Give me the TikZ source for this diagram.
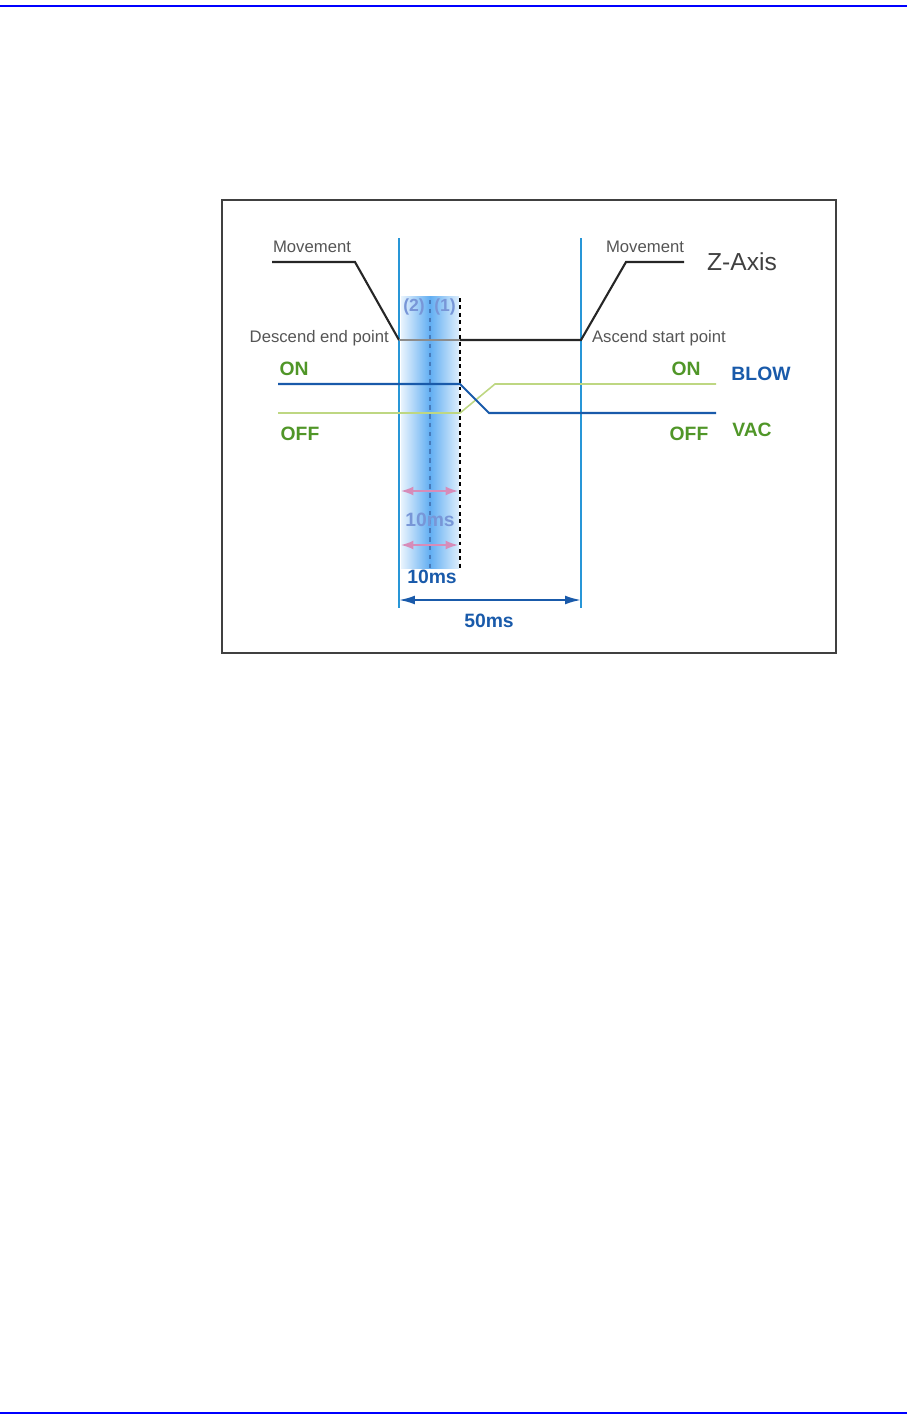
\documentclass[tikz,border=0pt]{standalone}
\usepackage{fontspec}
\setmainfont{Liberation Sans}
\usetikzlibrary{arrows, arrows.meta}
\definecolor{pageblue}{RGB}{0,0,255}
\definecolor{lineblue}{RGB}{40,150,215}
\definecolor{blowblue}{RGB}{25,90,170}
\definecolor{vacgreen}{RGB}{190,215,130}
\definecolor{txtgreen}{RGB}{80,150,40}
\definecolor{txtgray}{RGB}{85,85,85}
\definecolor{markblue}{RGB}{120,150,215}
\definecolor{pinkarr}{RGB}{215,140,185}
\definecolor{bandblue}{RGB}{70,160,240}

\begin{document}
\begin{tikzpicture}[x=0.02cm,y=-0.02cm,
  thin text/.style={color=txtgray, font=\fontsize{9.5}{11}\selectfont, inner sep=1pt},
  state text/.style={color=txtgreen, font=\fontsize{11}{13}\selectfont\bfseries, inner sep=1pt},
  time text/.style={font=\fontsize{11}{13}\selectfont\bfseries, inner sep=1pt}]%
  \def\tl{399}% descend end point
  \def\tr{581}% ascend start point
  \def\tm{430}% (2)
  \def\tk{460}% (1)
  \def\yz{340}
  \def\yon{384}
  \def\yoff{413}
  \useasboundingbox (0,0) rectangle (907,1424);
  % page rules and frame
  \draw[pageblue, line width=1.6pt] (0,6) -- (907,6);
  \draw[pageblue, line width=1.6pt] (0,1413) -- (907,1413);
  \draw[color=black!75, line width=1.1pt] (222,200) rectangle (836,653);

  % shaded window
  \shade[left color=bandblue!12, right color=bandblue!18, middle color=bandblue!85] (\tl+2,296) rectangle (\tk-1,568);
  \draw[color=blowblue!80, line width=0.6pt, dash pattern=on 2.5pt off 2.5pt] (\tm,300) -- (\tm,570);
  \draw[color=black, line width=1.7pt, dash pattern=on 2.2pt off 2pt] (\tk,298) -- (\tk,568);

  % time marks
  \draw[color=lineblue, line width=1.1pt] (\tl,238) -- (\tl,608);
  \draw[color=lineblue, line width=1.1pt] (\tr,238) -- (\tr,608);

  % z axis
  \draw[color=black!85, line width=1.2pt] (272,262) -- (355,262) -- (\tl,\yz);
  \draw[color=black!45, line width=0.6pt] (\tl,\yz) -- (\tk,\yz);
  \draw[color=black!85, line width=1.2pt] (\tk,\yz) -- (\tr,\yz) -- (626,262) -- (684,262);

  % vac and blow
  \draw[color=vacgreen, line width=0.9pt] (278,\yoff) -- (\tk,\yoff) -- (495,\yon) -- (716,\yon);
  \draw[color=blowblue, line width=1.2pt] (278,\yon) -- (\tk,\yon) -- (489,\yoff) -- (716,\yoff);

  % widths
  \draw[{Latex[length=7pt,width=5pt]}-{Latex[length=7pt,width=5pt]}, color=pinkarr, line width=0.9pt] (\tl+2,491) -- (\tk-2,491);
  \draw[{Latex[length=7pt,width=5pt]}-{Latex[length=7pt,width=5pt]}, color=pinkarr, line width=0.9pt] (\tl+2,545) -- (\tk-2,545);
  \draw[{Latex[length=9pt,width=5pt]}-{Latex[length=9pt,width=5pt]}, color=blowblue, line width=1.1pt] (\tl,600) -- (\tr,600);

  \node[thin text] (moveL) at (312,247) {Movement};
  \node[thin text] (moveR) at (645,247) {Movement};
  \node[color=black!75, font=\fontsize{14}{16}\selectfont, inner sep=1pt] (zaxis) at (742,262) {Z-Axis};
  \node[thin text, anchor=east] (descend) at (391,338) {Descend end point};
  \node[thin text, anchor=west] (ascend) at (590,338) {Ascend start point};

  \node[state text] (onL) at (294,369) {ON};
  \node[state text] (offL) at (300,434) {OFF};
  \node[state text] (onR) at (686,369) {ON};
  \node[state text] (offR) at (689,434) {OFF};
  \node[time text, color=blowblue] (blow) at (761,374) {BLOW};
  \node[state text] (vac) at (752,430) {VAC};

  \node[time text, color=markblue, font=\fontsize{10}{12}\selectfont\bfseries] (two) at (414,307) {(2)};
  \node[time text, color=markblue, font=\fontsize{10}{12}\selectfont\bfseries] (one) at (445,307) {(1)};
  \node[time text, color=markblue] (tenA) at (430,520) {10ms};
  \node[time text, color=blowblue] (tenB) at (432,577) {10ms};
  \node[time text, color=blowblue] (fifty) at (489,621) {50ms};
\end{tikzpicture}
\end{document}
